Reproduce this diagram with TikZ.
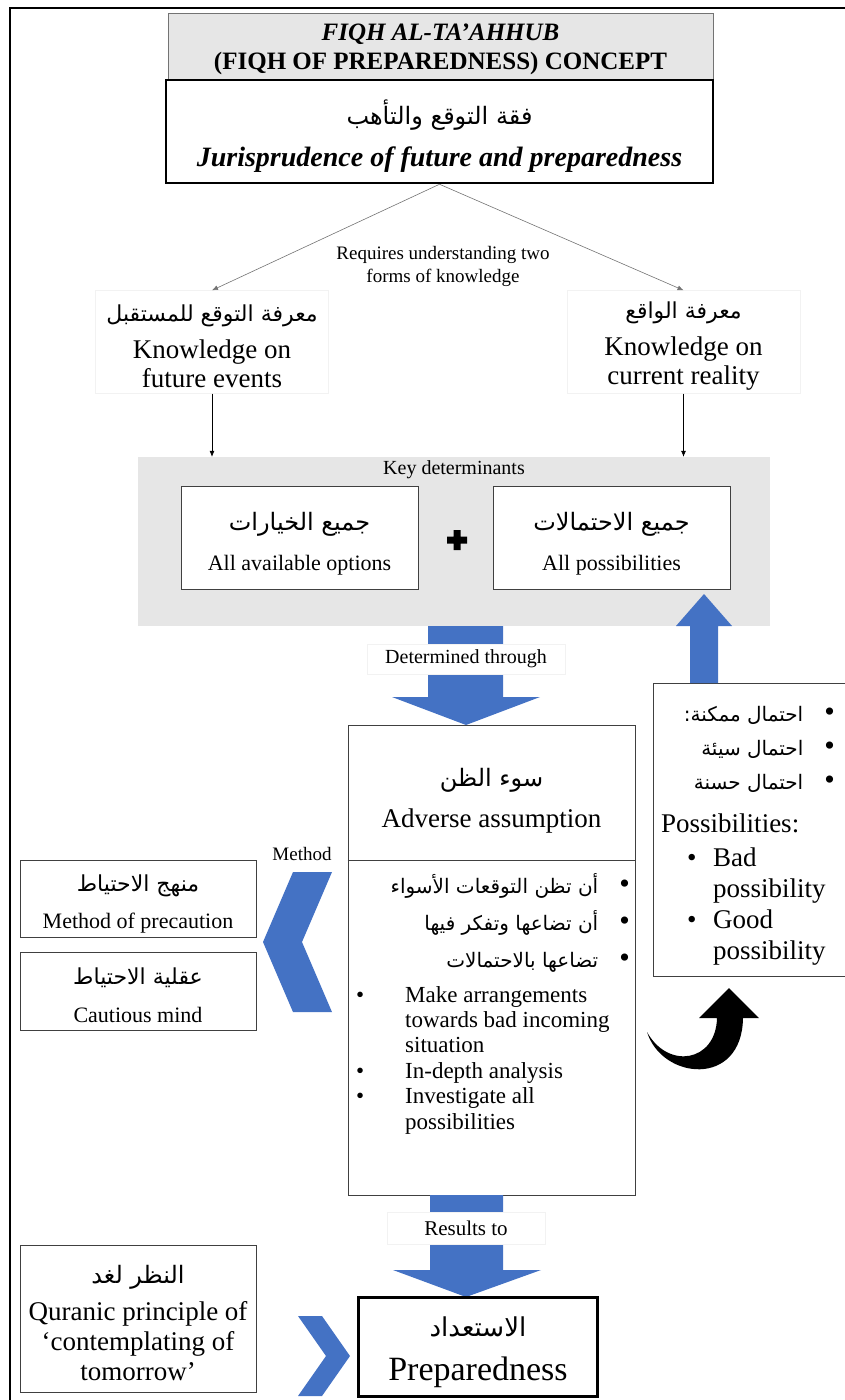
\documentclass[tikz,border=0pt]{standalone}
\usepackage{fontspec}
\setmainfont{Liberation Serif}
\newfontfamily\arabicfont[Script=Arabic]{DejaVu Sans}
\TeXXeTstate=1
\usetikzlibrary{arrows.meta,positioning}
\definecolor{blockblue}{RGB}{68,114,196}
\definecolor{keygray}{RGB}{230,230,230}
\newcommand{\fsz}[2]{\fontsize{#1}{#2}\selectfont}
\newcommand{\artxt}[2][22]{{\arabicfont\fontsize{#1}{#1}\selectfont\beginR #2\endR}}
\newcommand{\bigdot}{{\fontsize{30}{30}\selectfont\textbullet}}
\tikzset{
  plainbox/.style={draw=black!75, line width=0.8pt, fill=white, align=center, inner sep=0pt},
  thickbox/.style={plainbox, draw=black, line width=2.5pt},
  faintbox/.style={draw=black!5, align=center, inner sep=0pt},
  txt/.style={align=center, inner sep=0pt},
  tag/.style={fill=white, draw=black!5, align=center, inner sep=0pt},
  thin arrow/.style={-{Latex[length=6pt,width=5pt]}, line width=0.6pt},
}
\begin{document}
\begin{tikzpicture}[x=1pt, y=-1pt]
\useasboundingbox (0,0) rectangle (845,1400);
\draw[line width=2.5pt] (845,8) -- (10,8) -- (10,1400);
% title
\node[plainbox, fill=keygray, draw=black!55, line width=1pt, minimum width=545, minimum height=67] (concept) at (440.5,46.5) {};
\node[txt, font=\fsz{25}{29}\bfseries] (concepttext) at ([yshift=-3pt]concept.center) {\textit{FIQH AL-TA’AHHUB}\\(FIQH OF PREPAREDNESS) CONCEPT};
\node[thickbox, minimum width=547, minimum height=103] (fiqh) at (439.5,131.5) {};
\node[txt, font=\fsz{28}{42}] (fiqhtext) at ([yshift=-5pt]fiqh.center) {\artxt[24]{فقة التوقع والتأهب}\\\textbf{\textit{Jurisprudence of future and preparedness}}};
% two forms of knowledge
\node[txt, font=\fsz{19}{23}] (req) at (443,266) {Requires understanding two\\forms of knowledge};
\node[faintbox, minimum width=233, minimum height=103] (future) at (212,342) {};
\node[txt, font=\fsz{27}{29}] (futuretext) at ([yshift=-4pt]future.center) {\artxt[22]{معرفة التوقع للمستقبل}\\[8pt]Knowledge on\\future events};
\node[faintbox, minimum width=233, minimum height=103] (reality) at (683.5,342) {};
\node[txt, font=\fsz{27}{29}] (realitytext) at ([yshift=-4pt]reality.center) {\artxt[22]{معرفة الواقع}\\[8pt]Knowledge on\\current reality};
\draw[thin arrow, black!55] (fiqh.south) -- (future.north);
\draw[thin arrow, black!55] (fiqh.south) -- (reality.north);
% key determinants
\node[fill=keygray, minimum width=632, minimum height=169, inner sep=0pt] (keys) at (454,541.5) {};
\node[txt, font=\fsz{20}{24}, below=4pt of keys.north] (keylabel) {Key determinants};
\draw[thin arrow] (future.south) -- (future.south |- keys.north);
\draw[thin arrow] (reality.south) -- (reality.south |- keys.north);
\node[plainbox, minimum width=237, minimum height=103] (options) at (299.5,537.5) {};
\node[txt, font=\fsz{22}{40}] (optionstext) at ([yshift=-6pt]options.center) {\artxt[24]{جميع الخيارات}\\All available options};
\node[plainbox, minimum width=237, minimum height=103] (possib) at (611.5,537.5) {};
\node[txt, font=\fsz{22}{40}] (possibtext) at ([yshift=-6pt]possib.center) {\artxt[24]{جميع الاحتمالات}\\All possibilities};
\fill (447,536.5) rectangle (467,543.5) (453.5,530) rectangle (460.5,550);
% determined through
\fill[blockblue] (428,626) -- (503,626) -- (503,697) -- (540,697) -- (466,725) -- (392,697) -- (428,697) -- cycle;
\node[tag, minimum width=198, minimum height=30, font=\fsz{20}{24}] (determined) at (466,659) {Determined through};
% adverse assumption
\node[plainbox, minimum width=287, minimum height=470] (adverse) at (491.5,960) {};
\draw[black!75, line width=0.8pt] (adverse.west |- 0,860) -- (adverse.east |- 0,860);
\node[txt, font=\fsz{27}{41}] (assume) at (491.5,801) {\artxt[24]{سوء الظن}\\Adverse assumption};
\node[txt, anchor=north east, align=right, font=\fsz{21}{37}] (assumear) at (630,873) {\artxt[20]{أن تظن التوقعات الأسواء}\quad\bigdot\\\artxt[20]{أن تضاعها وتفكر فيها}\quad\bigdot\\\artxt[20]{تضاعها بالاحتمالات}\quad\bigdot};
\node[txt, anchor=north west, align=left, font=\fsz{23}{25.4}] (assumeen) at (356,986) {\makebox[49pt][l]{\textbullet}Make arrangements\\\hspace*{49pt}towards bad incoming\\\hspace*{49pt}situation\\\makebox[49pt][l]{\textbullet}In-depth analysis\\\makebox[49pt][l]{\textbullet}Investigate all\\\hspace*{49pt}possibilities};
% method
\node[txt, font=\fsz{19}{22}] (method) at (302,854) {Method};
\fill[blockblue] (293,872) -- (332,872) -- (302,942) -- (332,1012) -- (293,1012) -- (263,942) -- cycle;
\node[plainbox, minimum width=236, minimum height=77] (precaution) at (138,899) {};
\node[txt, font=\fsz{22}{37}] (precautiontext) at ([yshift=-5pt]precaution.center) {\artxt{منهج الاحتياط}\\Method of precaution};
\node[plainbox, minimum width=236, minimum height=78] (mind) at (138,991.5) {};
\node[txt, font=\fsz{22}{38}] (mindtext) at ([yshift=-4pt]mind.center) {\artxt{عقلية الاحتياط}\\Cautious mind};
% possibilities
\node[plainbox, minimum width=200, minimum height=293, anchor=north west] (possibility) at (653,683) {};
\node[txt, anchor=north east, align=right, font=\fsz{21}{34}] (possar) at (835,706) {\artxt[20]{احتمال ممكنة:}\quad\bigdot\\\artxt[20]{احتمال سيئة}\quad\bigdot\\\artxt[20]{احتمال حسنة}\quad\bigdot};
\node[txt, anchor=north west, align=left, font=\fsz{27}{31}] (possen) at (661,814) {Possibilities:\\[3pt]\hspace*{26pt}\makebox[26pt][l]{\textbullet}Bad\\\hspace*{52pt}possibility\\\hspace*{26pt}\makebox[26pt][l]{\textbullet}Good\\\hspace*{52pt}possibility};
\fill[blockblue] (690,683) -- (718,683) -- (718,626) -- (732,626) -- (704,594) -- (676,626) -- (690,626) -- cycle;
\fill (647,1032) .. controls (662,1080) and (742,1088) .. (743,1018) -- (759,1018) -- (729,988) -- (699,1018) -- (717,1018) .. controls (716,1062) and (668,1070) .. (647,1032) -- cycle;
% results to
\fill[blockblue] (430,1195) -- (503,1195) -- (503,1270) -- (541,1270) -- (466,1297) -- (393,1270) -- (430,1270) -- cycle;
\node[tag, minimum width=158, minimum height=32, font=\fsz{21}{24}] (results) at (466,1228) {Results to};
\node[plainbox, minimum width=236, minimum height=147] (tomorrow) at (138,1318.5) {};
\node[txt, font=\fsz{27}{30}] (tomorrowtext) at ([yshift=-4pt]tomorrow.center) {\artxt[24]{النظر لغد}\\[7pt]Quranic principle of\\‘contemplating of\\tomorrow’};
\fill[blockblue] (298,1316) -- (322,1316) -- (350,1356) -- (322,1396) -- (298,1396) -- (326,1356) -- cycle;
\node[thickbox, minimum width=239, minimum height=99] (prepared) at (478,1347) {};
\node[txt, font=\fsz{34}{44}] (preparedtext) at ([yshift=-5pt]prepared.center) {\artxt[26]{الاستعداد}\\Preparedness};
\end{tikzpicture}
\end{document}
